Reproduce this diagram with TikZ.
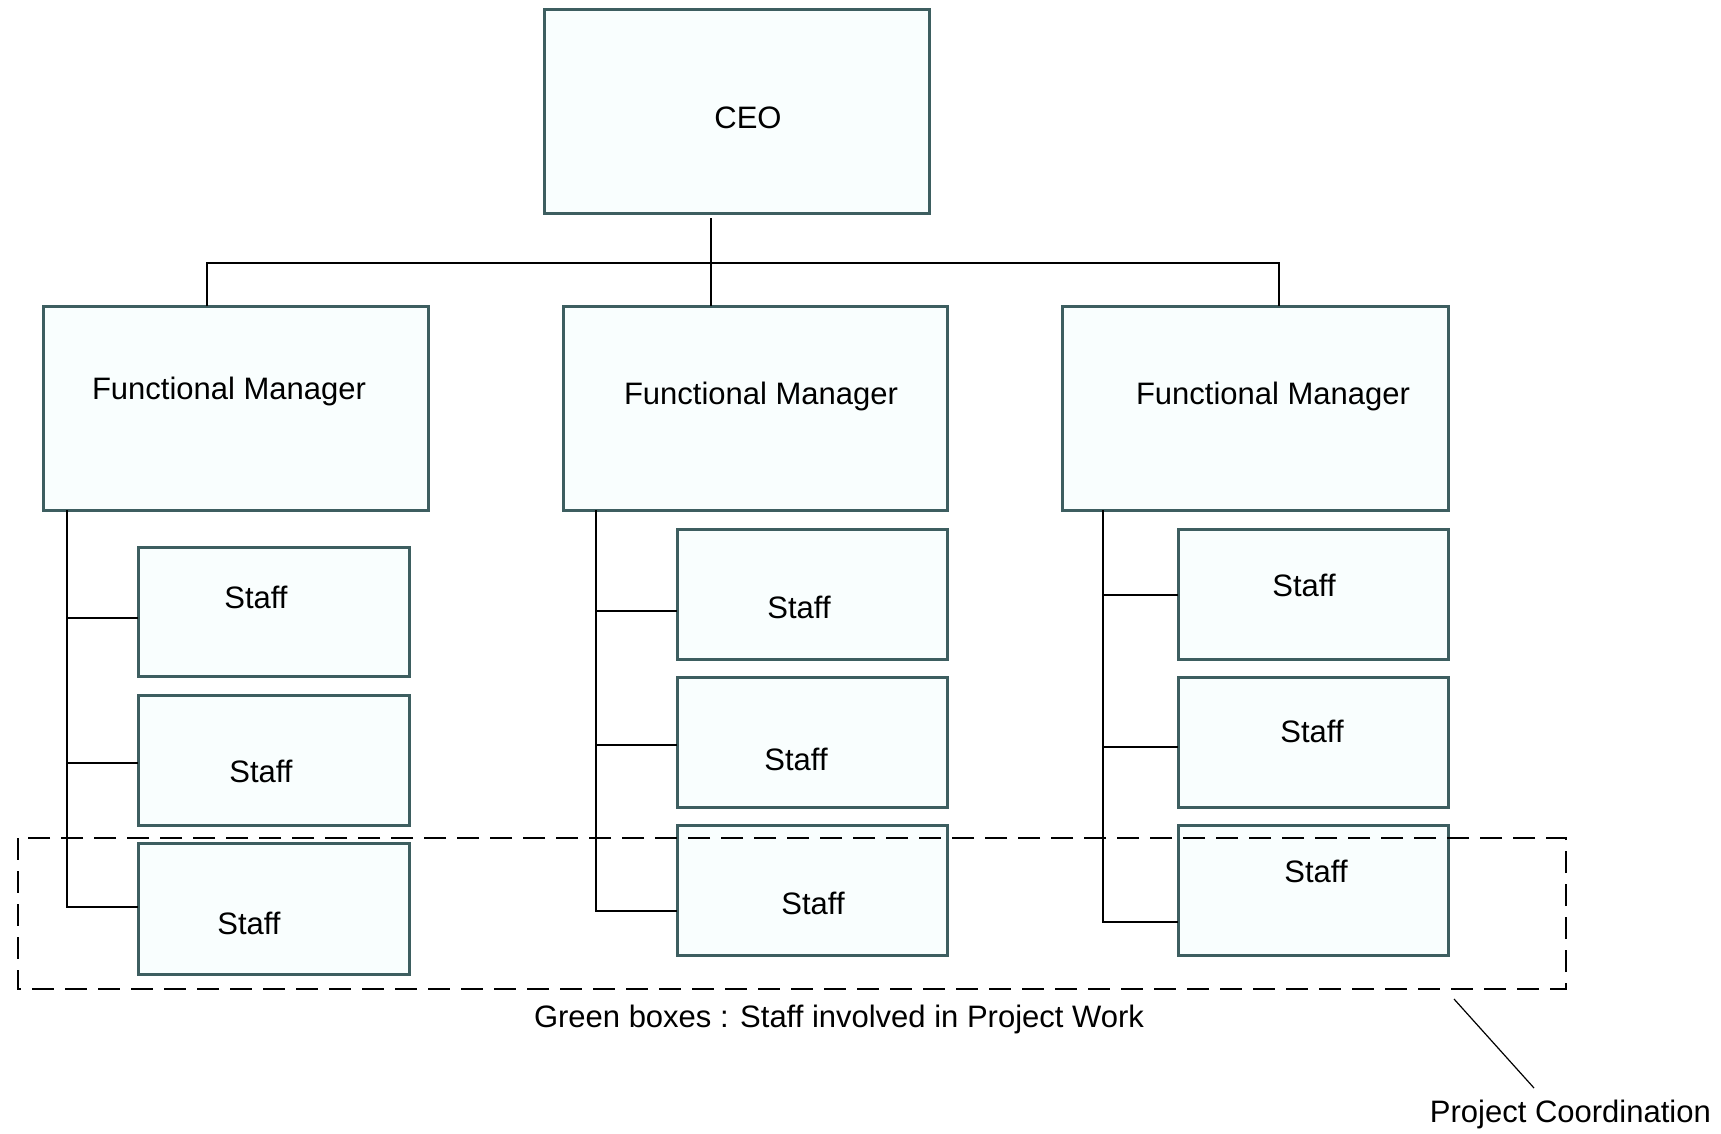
\documentclass[tikz,border=0pt]{standalone}
\usepackage{fontspec}
\setmainfont{Liberation Sans}
\definecolor{boxline}{HTML}{3D5E60}
\definecolor{boxfill}{HTML}{F9FEFE}
\begin{document}
\begin{tikzpicture}[x=1pt,y=-1pt,
  orgbox/.style={draw=boxline, line width=3pt, fill=boxfill},
  lbl/.style={font=\fontsize{31}{36}\selectfont, inner sep=0pt},
  conn/.style={line width=1.8pt, black},
  dashbox/.style={line width=1.8pt, dash pattern=on 22pt off 11pt}]
\useasboundingbox (0,0) rectangle (1721,1133);
% CEO
\draw[orgbox] (544,9) rectangle (929,213);
\node[lbl] (ceo) at (748,118) {CEO};
% Functional managers
\draw[orgbox] (43,306) rectangle (428,510);
\draw[orgbox] (563,306) rectangle (947,510);
\draw[orgbox] (1062,306) rectangle (1448,510);
\node[lbl] (fm1) at (229,391) {Functional Manager};
\node[lbl] (fm2) at (761,396) {Functional Manager};
\node[lbl] (fm3) at (1273,396) {Functional Manager};
% top connectors
\coordinate (ceob) at (711,218);
\coordinate (busl) at (207,263);
\coordinate (busr) at (1279,263);
\coordinate (fm1t) at (207,306);
\coordinate (fm2t) at (711,306);
\coordinate (fm3t) at (1279,306);
\draw[conn] (fm1t) -- (busl) -- (busr) -- (fm3t);
\draw[conn] (ceob) -- (fm2t);
% Left staff
\draw[orgbox] (138,547) rectangle (409,676);
\draw[orgbox] (138,695) rectangle (409,825);
\draw[orgbox] (138,843) rectangle (409,974);
\node[lbl] (s11) at (256,597) {Staff};
\node[lbl] (s12) at (261,771) {Staff};
\node[lbl] (s13) at (249,923) {Staff};
\coordinate (v1t) at (67,510);
\coordinate (v1b) at (67,907);
\coordinate (b11) at (67,618);
\coordinate (b12) at (67,763);
\coordinate (e11) at (138,618);
\coordinate (e12) at (138,763);
\coordinate (e13) at (138,907);
\draw[conn] (v1t) -- (v1b) -- (e13);
\draw[conn] (b11) -- (e11);
\draw[conn] (b12) -- (e12);
% Middle staff
\draw[orgbox] (677,529) rectangle (947,659);
\draw[orgbox] (677,677) rectangle (947,807);
\draw[orgbox] (677,825) rectangle (947,955);
\node[lbl] (s21) at (799,607) {Staff};
\node[lbl] (s22) at (796,759) {Staff};
\node[lbl] (s23) at (813,903) {Staff};
\coordinate (v2t) at (596,510);
\coordinate (v2b) at (596,911);
\coordinate (b21) at (596,611);
\coordinate (b22) at (596,745);
\coordinate (e21) at (677,611);
\coordinate (e22) at (677,745);
\coordinate (e23) at (677,911);
\draw[conn] (v2t) -- (v2b) -- (e23);
\draw[conn] (b21) -- (e21);
\draw[conn] (b22) -- (e22);
% Right staff
\draw[orgbox] (1178,529) rectangle (1448,659);
\draw[orgbox] (1178,677) rectangle (1448,807);
\draw[orgbox] (1178,825) rectangle (1448,955);
\node[lbl] (s31) at (1304,585) {Staff};
\node[lbl] (s32) at (1312,731) {Staff};
\node[lbl] (s33) at (1316,871) {Staff};
\coordinate (v3t) at (1103,510);
\coordinate (v3b) at (1103,922);
\coordinate (b31) at (1103,595);
\coordinate (b32) at (1103,747);
\coordinate (e31) at (1178,595);
\coordinate (e32) at (1178,747);
\coordinate (e33) at (1178,922);
\draw[conn] (v3t) -- (v3b) -- (e33);
\draw[conn] (b31) -- (e31);
\draw[conn] (b32) -- (e32);
% Project coordination dashed box
\draw[dashbox] (18,838) rectangle (1566,989);
\node[lbl] (cap) at (839,1019) {Green boxes : Staff involved in Project Work};
\node[lbl, anchor=east] (pc) at (1711,1114) {Project Coordination};
\coordinate (pl1) at (1454,999);
\coordinate (pl2) at (1534,1088);
\draw[line width=1.2pt] (pl1) -- (pl2);
\end{tikzpicture}
\end{document}
